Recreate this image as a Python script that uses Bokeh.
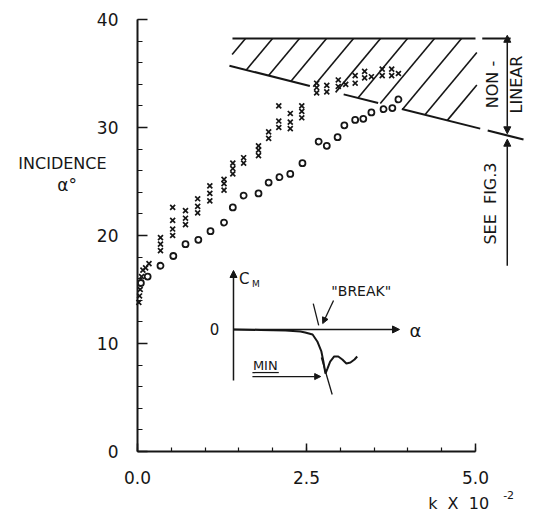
import numpy as np
from bokeh.plotting import figure
from bokeh.models import FixedTicker, Label, Arrow, NormalHead, NumeralTickFormatter
from bokeh.embed import file_html
from bokeh.resources import INLINE

# ---------------- data (k x 10^-2, incidence alpha deg) ----------------
circle_k = [0.05, 0.15, 0.34, 0.53, 0.71, 0.90, 1.08, 1.28, 1.41, 1.57, 1.79, 1.94,
            2.10, 2.26, 2.44, 2.68, 2.80, 2.96, 3.06, 3.22, 3.34, 3.46, 3.64, 3.77, 3.86]
circle_alpha = [15.6, 16.2, 17.2, 18.1, 19.2, 19.6, 20.4, 21.2, 22.6, 23.7, 23.9, 24.9,
                25.4, 25.7, 26.7, 28.7, 28.3, 29.1, 30.2, 30.7, 30.8, 31.4, 31.7, 31.8, 32.6]

cross_k = [0.02, 0.03, 0.04, 0.05, 0.06, 0.08, 0.12, 0.17,
           0.34, 0.34, 0.34,
           0.52, 0.52, 0.52, 0.52,
           0.71, 0.71, 0.71,
           0.89, 0.89, 0.89,
           1.07, 1.07, 1.07,
           1.28, 1.28, 1.28,
           1.41, 1.41, 1.41,
           1.57, 1.57,
           1.79, 1.79, 1.79,
           1.94, 1.94,
           2.09, 2.09, 2.09,
           2.26, 2.26, 2.26,
           2.43, 2.43, 2.43,
           2.65, 2.65, 2.65, 2.80, 2.80, 2.97, 2.97, 3.08, 3.22, 3.22,
           3.36, 3.36, 3.46, 3.62, 3.62, 3.76, 3.76, 3.86]
cross_alpha = [13.8, 14.4, 15.0, 15.6, 16.2, 16.8, 17.0, 17.4,
               18.6, 19.2, 19.8,
               20.0, 20.6, 21.4, 22.6,
               21.0, 21.6, 22.3,
               22.1, 22.7, 23.4,
               23.2, 23.9, 24.6,
               24.2, 24.8, 25.2,
               25.7, 26.2, 26.7,
               26.7, 27.2,
               27.4, 27.9, 28.3,
               29.0, 29.6,
               30.0, 30.6, 32.0,
               29.9, 30.5, 31.3,
               30.9, 31.5, 32.0,
               33.2, 33.7, 34.1, 33.3, 33.9, 33.8, 34.4, 34.0, 34.1, 34.8,
               34.6, 35.2, 34.7, 34.8, 35.4, 34.8, 35.4, 35.0]

x_major = [0.0, 2.5, 5.0]
x_minor = [0.5 * i for i in range(11)]
y_major = [0, 10, 20, 30, 40]
y_minor = list(range(0, 41, 2))

# non-linear region boundary (data units)
nl_top = 38.24
nl_top_k = [1.405, 5.0]
nl_top_k2 = [5.10, 5.52]
nl_low_k = [1.346, 5.71]
nl_low_a = [35.74, 28.89]
nl_low_pieces = [(1.36, 2.55), (3.05, 3.56), (3.91, 5.07), (5.18, 5.71)]
hatch_top_k = [1.598 + 0.3994 * i for i in range(11)]
hatch_slope = 7.51
nl_arrow_k = 5.47

# inset schematic C_M vs alpha (data units of the plot)
cm_curve_k = [1.42, 1.82, 2.19, 2.41, 2.48, 2.59, 2.66, 2.72, 2.75, 2.78,
              2.81, 2.85, 2.91, 2.97, 3.03, 3.09, 3.15, 3.21, 3.25]
cm_curve_a = [11.30, 11.25, 11.20, 11.11, 11.02, 10.83, 10.19, 9.26, 8.33, 7.22,
              7.68, 8.33, 8.80, 8.80, 8.52, 8.15, 8.24, 8.52, 8.80]

ink = "#161616"
FONT = "DejaVu Sans"
NB = "\u00a0"

# frame covers the whole canvas; axes are pinned at k=0 and alpha=0
p = figure(width=537, height=513, output_backend="svg", toolbar_location=None,
           x_range=(-137 / 67.6, 400 / 67.6), y_range=(-62 / 10.8, 451 / 10.8),
           min_border=0, min_border_left=0, min_border_bottom=0,
           min_border_top=0, min_border_right=0)
p.xgrid.visible = False
p.ygrid.visible = False
p.outline_line_color = None
p.background_fill_color = "white"

for ax in (p.xaxis, p.yaxis):
    ax.fixed_location = 0
    ax.axis_line_width = 2
    ax.axis_line_color = ink
    ax.major_tick_out = 0
    ax.minor_tick_out = 0
    ax.major_tick_line_width = 1.5
    ax.minor_tick_line_width = 1.2
    ax.major_tick_line_color = ink
    ax.minor_tick_line_color = ink
    ax.major_label_text_font = FONT
    ax.major_label_text_font_size = "17px"
    ax.major_label_text_color = ink

p.xaxis.bounds = (0, 5)
p.xaxis.ticker = FixedTicker(ticks=x_major, minor_ticks=x_minor)
p.xaxis.formatter = NumeralTickFormatter(format="0.0")
p.xaxis.major_tick_in = 8
p.xaxis.minor_tick_in = 4
p.xaxis.major_label_standoff = 19

p.yaxis.bounds = (0, 40)
p.yaxis.ticker = FixedTicker(ticks=y_major, minor_ticks=y_minor)
p.yaxis.major_tick_in = 10
p.yaxis.minor_tick_in = 5
p.yaxis.major_label_standoff = 19

# ---------------- non-linear hatched region ----------------
p.line(nl_top_k, [nl_top, nl_top], line_color=ink, line_width=2)
p.line(nl_top_k2, [nl_top, nl_top], line_color=ink, line_width=2)
m_low = (nl_low_a[1] - nl_low_a[0]) / (nl_low_k[1] - nl_low_k[0])
def low(k):
    return nl_low_a[0] + m_low * (k - nl_low_k[0])
for a, b in nl_low_pieces:
    p.line([a, b], [low(a), low(b)], line_color=ink, line_width=2)

hx0, hy0, hx1, hy1 = [], [], [], []
for kt in hatch_top_k:
    kb = (hatch_slope * kt - nl_top + nl_low_a[0] - m_low * nl_low_k[0]) / (hatch_slope - m_low)
    k_lo = max(kb, 1.40)
    k_hi = min(kt, 5.02)
    if k_hi <= k_lo:
        continue
    hx0.append(k_lo); hy0.append(nl_top + hatch_slope * (k_lo - kt))
    hx1.append(k_hi); hy1.append(nl_top + hatch_slope * (k_hi - kt))
p.segment(hx0, hy0, hx1, hy1, line_color=ink, line_width=1.6)

head = dict(size=7, fill_color=ink, line_color=ink)
p.add_layout(Arrow(start=NormalHead(**head), end=NormalHead(**head),
                   x_start=nl_arrow_k, y_start=low(nl_arrow_k) + 0.15,
                   x_end=nl_arrow_k, y_end=nl_top + 0.3, line_color=ink, line_width=1.5))
p.add_layout(Arrow(end=NormalHead(**head), x_start=nl_arrow_k, y_start=17.2,
                   x_end=nl_arrow_k, y_end=low(nl_arrow_k) - 0.35, line_color=ink, line_width=1.5))

def lab(x, y, t, size="15px", angle=0.0, align="center", baseline="middle"):
    p.add_layout(Label(x=x, y=y, text=t, text_font=FONT, text_font_size=size,
                       text_color=ink, angle=angle, text_align=align, text_baseline=baseline))

lab(5.25, 33.98, "NON -", size="16px", angle=np.pi / 2)
lab(5.61, 33.98, "LINEAR", size="16px", angle=np.pi / 2)
lab(5.22, 22.96, "SEE" + NB + NB + "FIG.3", size="16px", angle=np.pi / 2)

# ---------------- data points ----------------
p.scatter(cross_k, cross_alpha, marker="x", size=7, line_color=ink, line_width=1.7)
p.scatter(circle_k, circle_alpha, marker="circle", size=6, line_color=ink,
          fill_color="white", line_width=1.8)

# ---------------- inset schematic ----------------
p.add_layout(Arrow(end=NormalHead(**head), x_start=1.42, y_start=6.57, x_end=1.42, y_end=16.76,
                   line_color=ink, line_width=1.5))
p.add_layout(Arrow(end=NormalHead(**head), x_start=1.42, y_start=11.30, x_end=3.876, y_end=11.30,
                   line_color=ink, line_width=1.5))
p.line(cm_curve_k, cm_curve_a, line_color=ink, line_width=2)
p.segment([2.60], [13.70], [2.68], [11.67], line_color=ink, line_width=1.3)
p.add_layout(Arrow(end=NormalHead(size=6, fill_color=ink, line_color=ink),
                   x_start=2.90, y_start=13.98, x_end=2.74, y_end=11.85, line_color=ink, line_width=1.3))
p.segment([2.72], [8.70], [2.88], [5.28], line_color=ink, line_width=1.3)
p.segment([1.70], [7.31], [2.09], [7.31], line_color=ink, line_width=1.2)
p.add_layout(Arrow(end=NormalHead(size=6, fill_color=ink, line_color=ink),
                   x_start=1.70, y_start=6.94, x_end=2.71, y_end=6.94, line_color=ink, line_width=1.3))
lab(1.14, 11.30, "0", size="15px")
lab(1.58, 16.0, "C", size="15px")
lab(1.75, 15.5, "M", size="9px")
lab(4.11, 11.2, "α", size="18px")
lab(3.31, 14.9, "\"BREAK\"", size="14px")
lab(1.89, 7.96, "MIN", size="13px")

# ---------------- axis titles ----------------
lab(-1.11, 26.67, "INCIDENCE", size="16px")
lab(-1.04, 24.7, "α°", size="17px")
lab(4.75, -4.81, "k" + NB + NB + "X" + NB + NB + "10", size="16px")
lab(5.49, -4.0, "-2", size="11px")

open("out.html", "w").write(file_html(p, INLINE))
